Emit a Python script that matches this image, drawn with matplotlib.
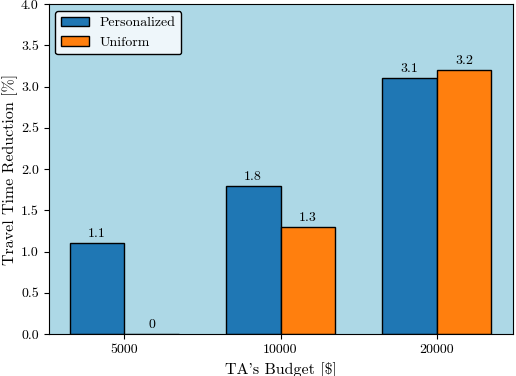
import numpy as np
import matplotlib
matplotlib.use("Agg")
import matplotlib.pyplot as plt

plt.rcParams['font.family'] = 'serif'
plt.rcParams['font.serif'] = ['cmr10']
plt.rcParams['mathtext.fontset'] = 'cm'
plt.rcParams['axes.formatter.use_mathtext'] = True
plt.rcParams['axes.unicode_minus'] = False

budgets = ['5000', '10000', '20000']
personalized = [1.1, 1.8, 3.1]
uniform = [0, 1.3, 3.2]

x = np.arange(len(budgets))
w = 0.35

fig = plt.figure(figsize=(5.16, 3.76), dpi=100)
ax = fig.add_axes([48.5/516, 42/376, 464/516, 330/376])
ax.set_facecolor('lightblue')

b1 = ax.bar(x - w/2, personalized, w, color='#1f77b4', edgecolor='black', linewidth=1.0, label='Personalized')
b2 = ax.bar(x + w/2, uniform, w, color='#ff7f0e', edgecolor='black', linewidth=1.0, label='Uniform')
ax.bar_label(b1, labels=[str(v) for v in personalized], padding=2, fontsize=10)
ax.bar_label(b2, labels=[str(v) for v in uniform], padding=2, fontsize=10)

ax.set_xticks(x)
ax.set_xticklabels(budgets)
ax.set_ylim(0, 4)
yt = np.arange(0, 4.01, 0.5)
ax.set_yticks(yt)
ax.set_yticklabels(['%.1f' % v for v in yt])
ax.tick_params(labelsize=10)
ax.set_xlabel("TA's Budget [\\$]", fontsize=11.5)
ax.set_ylabel('Travel Time Reduction [%]', fontsize=11.5, labelpad=2)

leg = ax.legend(loc='upper left', fontsize=10, facecolor='#eef6fa', edgecolor='black', framealpha=1)
leg.get_frame().set_linewidth(1.0)

fig.savefig('out.png', dpi=100)
